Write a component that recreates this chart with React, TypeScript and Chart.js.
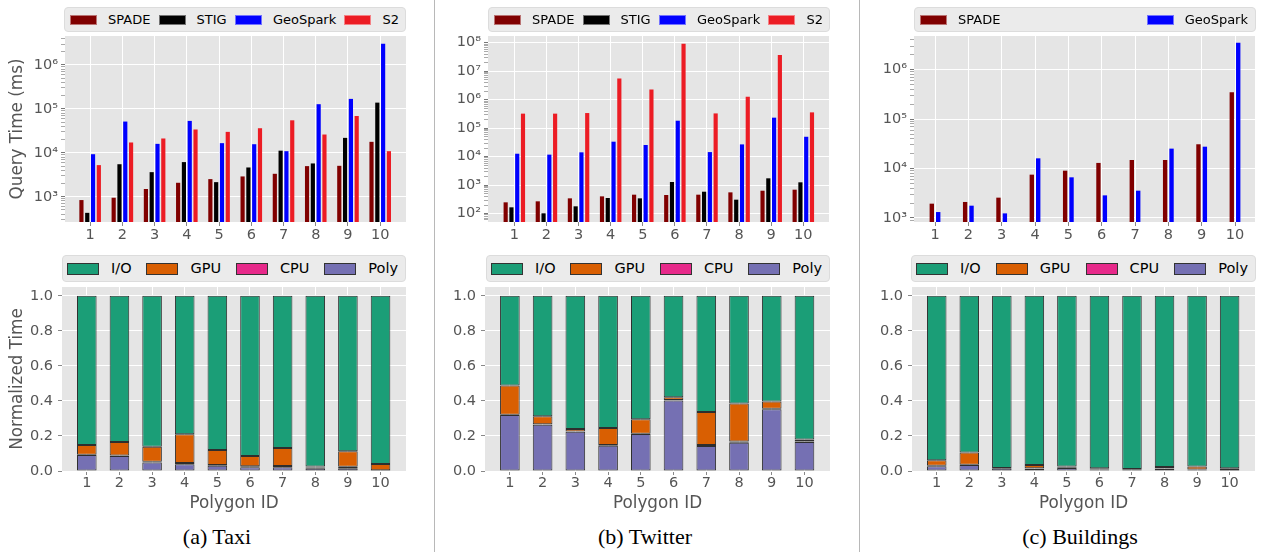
import React, { useEffect, useRef } from 'react';
import { Chart, registerables } from 'chart.js';

Chart.register(...registerables);

const FONT = "'DejaVu Sans', 'Noto Sans', sans-serif";
const TICK_COLOR = '#555555';

// ---------- data ----------
const polygonIds = [1, 2, 3, 4, 5, 6, 7, 8, 9, 10];

// (a) Taxi query time (ms)
const taxiSpade = [840, 950, 1500, 2080, 2520, 2900, 3330, 4980, 5060, 17800];
const taxiStig = [430, 5500, 3630, 6150, 2150, 4640, 11200, 5730, 21900, 139000];
const taxiGeoSpark = [9300, 51500, 16000, 53300, 16600, 15700, 10900, 128000, 169000, 3050000];
const taxiS2 = [5250, 17200, 21200, 34000, 30000, 36300, 55000, 26100, 69000, 10900];

// (b) Twitter query time (ms)
const twitterSpade = [250, 271, 345, 405, 464, 452, 464, 560, 640, 695];
const twitterStig = [167, 103, 181, 355, 345, 1290, 590, 310, 1740, 1260];
const twitterGeoSpark = [12700, 11800, 14200, 33600, 25700, 183000, 14500, 27000, 234000, 50000];
const twitterS2 = [324000, 324000, 340000, 5600000, 2300000, 92000000, 330000, 1270000, 37000000, 359000];

// (c) Buildings query time (ms)
const buildingsSpade = [1950, 2110, 2580, 7530, 9060, 13000, 14900, 14900, 31000, 348000];
const buildingsGeoSpark = [1320, 1775, 1240, 16100, 6650, 2870, 3570, 25300, 27700, 3500000];

// normalized time breakdown
const taxiIO = [0.852, 0.835, 0.861, 0.79, 0.88, 0.915, 0.869, 0.974, 0.888, 0.96];
const taxiGPU = [0.055, 0.077, 0.086, 0.164, 0.086, 0.058, 0.103, 0.006, 0.088, 0.036];
const taxiCPU = [0.002, 0.003, 0.005, 0.008, 0.004, 0.005, 0.006, 0.005, 0.009, 0.002];
const taxiPoly = [0.091, 0.085, 0.048, 0.038, 0.03, 0.022, 0.022, 0.015, 0.015, 0.002];

const twitterIO = [0.512, 0.687, 0.761, 0.755, 0.704, 0.579, 0.664, 0.615, 0.603, 0.82];
const twitterGPU = [0.167, 0.046, 0.013, 0.096, 0.083, 0.016, 0.188, 0.216, 0.042, 0.012];
const twitterCPU = [0.002, 0.003, 0.002, 0.005, 0.002, 0.003, 0.006, 0.008, 0.002, 0.003];
const twitterPoly = [0.319, 0.264, 0.224, 0.144, 0.211, 0.402, 0.142, 0.161, 0.353, 0.165];

const buildingsIO = [0.939, 0.894, 0.983, 0.966, 0.975, 0.985, 0.989, 0.977, 0.975, 0.985];
const buildingsGPU = [0.031, 0.07, 0.001, 0.018, 0.006, 0.004, 0.001, 0.007, 0.016, 0.011];
const buildingsCPU = [0.003, 0.002, 0.001, 0.003, 0.002, 0.003, 0.004, 0.003, 0.003, 0.002];
const buildingsPoly = [0.027, 0.034, 0.015, 0.013, 0.017, 0.008, 0.006, 0.013, 0.006, 0.002];

const normTicks = [0, 0.2, 0.4, 0.6, 0.8, 1.0];

// ---------- styles ----------
const COLORS = {
  SPADE: '#800000',
  STIG: '#000000',
  GeoSpark: '#0000ff',
  S2: '#ec1c24',
  'I/O': '#1b9e77',
  GPU: '#d95f02',
  CPU: '#e7298a',
  Poly: '#7570b3',
};

const SUP = ['⁰', '¹', '²', '³', '⁴', '⁵', '⁶', '⁷', '⁸', '⁹'];
const isMajor = (v: number) => {
  const l = Math.log10(v);
  return Math.abs(l - Math.round(l)) < 1e-9;
};
const supLabel = (v: number) => {
  const e = Math.round(Math.log10(v));
  return '10' + String(e).split('').map((d) => SUP[Number(d)]).join('');
};
const logTickValues = (min: number, max: number) => {
  const out: number[] = [];
  for (let d = Math.floor(Math.log10(min)); d <= Math.ceil(Math.log10(max)); d++) {
    for (let m = 1; m <= 9; m++) {
      const v = m * Math.pow(10, d);
      if (v >= min && v <= max) out.push(v);
    }
  }
  return out;
};

const bgPlugin = {
  id: 'panelBg',
  beforeDraw(chart: any) {
    const { ctx, chartArea } = chart;
    if (!chartArea) return;
    ctx.save();
    ctx.fillStyle = '#e5e5e5';
    ctx.fillRect(chartArea.left, chartArea.top, chartArea.right - chartArea.left, chartArea.bottom - chartArea.top);
    ctx.restore();
  },
};

type Series = { label: keyof typeof COLORS; data: number[] };

type Frame = {
  width: number;
  height: number;
  yWidth: number;
  xHeight: number;
  padTop: number;
  padRight: number;
  xMin: number;
  xMax: number;
};

const xScale = (f: Frame, withTitle: boolean) => ({
  type: 'linear',
  min: f.xMin,
  max: f.xMax,
  offset: false,
  afterFit: (s: any) => {
    s.height = f.xHeight;
  },
  afterBuildTicks: (s: any) => {
    s.ticks = polygonIds.map((v) => ({ value: v }));
  },
  grid: { color: '#ffffff', lineWidth: 1, offset: false, drawTicks: true, tickLength: 4, tickColor: '#888888' },
  border: { display: false },
  ticks: {
    color: TICK_COLOR,
    font: { family: FONT, size: 14.5 },
    padding: withTitle ? 0 : 1,
    autoSkip: false,
    maxRotation: 0,
    callback: (v: any) => String(v),
  },
  title: withTitle
    ? { display: true, text: 'Polygon ID', color: TICK_COLOR, font: { family: FONT, size: 16.8 }, padding: { top: 0, bottom: 6 } }
    : { display: false },
});

const yTitle = (text?: string) =>
  text
    ? { display: true, text, color: TICK_COLOR, font: { family: FONT, size: 16.8 }, padding: { top: 7.4, bottom: 0 } }
    : { display: false };

function topConfig(
  f: Frame,
  series: Series[],
  yMin: number,
  yMax: number,
  catPct: number,
  barPct: number,
  title?: string
) {
  return {
    type: 'bar',
    data: {
      datasets: series.map((s) => ({
        label: s.label,
        data: polygonIds.map((id, i) => ({ x: id, y: s.data[i] })),
        backgroundColor: COLORS[s.label],
        borderWidth: 0,
        categoryPercentage: catPct,
        barPercentage: barPct,
      })),
    },
    options: {
      animation: false,
      responsive: false,
      events: [],
      layout: { padding: { top: f.padTop, right: f.padRight, left: 0, bottom: 0 } },
      plugins: { legend: { display: false }, tooltip: { enabled: false } },
      scales: {
        x: xScale(f, false),
        y: {
          type: 'logarithmic',
          min: yMin,
          max: yMax,
          afterFit: (s: any) => {
            s.width = f.yWidth;
          },
          afterBuildTicks: (s: any) => {
            s.ticks = logTickValues(yMin, yMax).map((v) => ({ value: v }));
          },
          grid: {
            color: (c: any) => (c.tick && isMajor(c.tick.value) ? '#ffffff' : 'rgba(0,0,0,0)'),
            tickColor: (c: any) => (c.tick && isMajor(c.tick.value) ? '#777777' : '#aaaaaa'),
            lineWidth: 1,
            tickLength: 4,
          },
          border: { display: false },
          ticks: {
            color: TICK_COLOR,
            font: { family: FONT, size: 14.5 },
            padding: 3,
            autoSkip: false,
            callback: (v: any) => (isMajor(Number(v)) ? supLabel(Number(v)) : ''),
          },
          title: yTitle(title),
        },
      },
    },
    plugins: [bgPlugin],
  };
}

function bottomConfig(f: Frame, io: number[], gpu: number[], cpu: number[], poly: number[], title?: string) {
  const series: Series[] = [
    { label: 'Poly', data: poly },
    { label: 'CPU', data: cpu },
    { label: 'GPU', data: gpu },
    { label: 'I/O', data: io },
  ];
  return {
    type: 'bar',
    data: {
      datasets: series.map((s) => ({
        label: s.label,
        data: polygonIds.map((id, i) => ({ x: id, y: s.data[i] })),
        backgroundColor: COLORS[s.label],
        borderColor: '#2e2e2e',
        borderWidth: 1,
        borderSkipped: false,
        categoryPercentage: 1,
        barPercentage: 0.6,
      })),
    },
    options: {
      animation: false,
      responsive: false,
      events: [],
      layout: { padding: { top: f.padTop, right: f.padRight, left: 0, bottom: 0 } },
      plugins: { legend: { display: false }, tooltip: { enabled: false } },
      scales: {
        x: { ...xScale(f, true), stacked: true },
        y: {
          type: 'linear',
          stacked: true,
          min: 0,
          max: 1.05,
          afterFit: (s: any) => {
            s.width = f.yWidth;
          },
          afterBuildTicks: (s: any) => {
            s.ticks = normTicks.map((v) => ({ value: v }));
          },
          grid: { color: '#ffffff', lineWidth: 1, tickLength: 4, tickColor: '#888888' },
          border: { display: false },
          ticks: {
            color: TICK_COLOR,
            font: { family: FONT, size: 14.5 },
            padding: 5,
            autoSkip: false,
            callback: (v: any) => Number(v).toFixed(1),
          },
          title: yTitle(title),
        },
      },
    },
    plugins: [bgPlugin],
  };
}

function ChartBox({ left, top, width, height, config }: { left: number; top: number; width: number; height: number; config: () => any }) {
  const ref = useRef<HTMLCanvasElement>(null);
  useEffect(() => {
    const chart = new Chart(ref.current as HTMLCanvasElement, config());
    return () => chart.destroy();
  }, []);
  return (
    <canvas
      ref={ref}
      width={width}
      height={height}
      style={{ position: 'absolute', left, top, width, height, display: 'block' }}
    />
  );
}

function Legend({
  left,
  top,
  width,
  height,
  items,
  patchW,
  patchH,
  gap,
  fontSize,
  dark,
  padL,
  padR,
}: {
  left: number;
  top: number;
  width: number;
  height: number;
  items: (keyof typeof COLORS)[];
  patchW: number;
  patchH: number;
  gap: number;
  fontSize: number;
  dark: boolean;
  padL: number;
  padR: number;
}) {
  return (
    <div
      style={{
        position: 'absolute',
        left,
        top,
        width,
        height,
        boxSizing: 'border-box',
        background: '#ebebeb',
        border: '1px solid #dcdcdc',
        borderRadius: 4,
        display: 'flex',
        alignItems: 'center',
        justifyContent: 'space-between',
        paddingLeft: padL,
        paddingRight: padR,
        zIndex: 2,
      }}
    >
      {items.map((it) => (
        <div key={it} style={{ display: 'flex', alignItems: 'center' }}>
          <div
            style={{
              width: patchW,
              height: patchH,
              boxSizing: 'border-box',
              background: COLORS[it],
              border: dark ? '1px solid #333' : '1px solid rgba(255,255,255,0.45)',
              marginRight: gap,
            }}
          />
          <span style={{ fontFamily: FONT, fontSize, color: '#000', lineHeight: 1, whiteSpace: 'nowrap' }}>{it}</span>
        </div>
      ))}
    </div>
  );
}

const topFrameA: Frame = { width: 420, height: 250, yWidth: 65, xHeight: 28, padTop: 36, padRight: 14, xMin: 0.22, xMax: 10.8 };
const topFrameB: Frame = { width: 420, height: 250, yWidth: 52, xHeight: 28, padTop: 36, padRight: 27, xMin: 0.18, xMax: 10.8 };
const topFrameC: Frame = { width: 400, height: 250, yWidth: 53, xHeight: 28, padTop: 36, padRight: 6, xMin: 0.37, xMax: 10.6 };
const botFrameA: Frame = { width: 420, height: 270, yWidth: 62, xHeight: 49, padTop: 37, padRight: 14, xMin: 0.24, xMax: 10.78 };
const botFrameB: Frame = { width: 420, height: 270, yWidth: 49, xHeight: 49, padTop: 37, padRight: 26, xMin: 0.24, xMax: 10.78 };
const botFrameC: Frame = { width: 400, height: 270, yWidth: 51, xHeight: 49, padTop: 37, padRight: 6, xMin: 0.24, xMax: 10.78 };

const captionStyle = (center: number): React.CSSProperties => ({
  position: 'absolute',
  left: center - 150,
  width: 300,
  top: 524,
  textAlign: 'center',
  fontFamily: "'Liberation Serif', 'Times New Roman', serif",
  fontSize: 22,
  lineHeight: '26px',
  color: '#000',
});

export default function App() {
  const topItems: (keyof typeof COLORS)[] = ['SPADE', 'STIG', 'GeoSpark', 'S2'];
  const botItems: (keyof typeof COLORS)[] = ['I/O', 'GPU', 'CPU', 'Poly'];
  return (
    <div style={{ position: 'absolute', left: 0, top: 0, width: 1261, height: 552, background: '#fff', overflow: 'hidden' }}>
      {/* separators */}
      <div style={{ position: 'absolute', left: 434, top: 0, width: 1, height: 552, background: '#b8b8b8' }} />
      <div style={{ position: 'absolute', left: 859, top: 0, width: 1, height: 552, background: '#b8b8b8' }} />

      {/* top row */}
      <ChartBox
        left={0}
        top={0}
        width={topFrameA.width}
        height={topFrameA.height}
        config={() =>
          topConfig(
            topFrameA,
            [
              { label: 'SPADE', data: taxiSpade },
              { label: 'STIG', data: taxiStig },
              { label: 'GeoSpark', data: taxiGeoSpark },
              { label: 'S2', data: taxiS2 },
            ],
            266,
            4.57e6,
            0.72,
            0.72,
            'Query Time (ms)'
          )
        }
      />
      <ChartBox
        left={436}
        top={0}
        width={topFrameB.width}
        height={topFrameB.height}
        config={() =>
          topConfig(
            topFrameB,
            [
              { label: 'SPADE', data: twitterSpade },
              { label: 'STIG', data: twitterStig },
              { label: 'GeoSpark', data: twitterGeoSpark },
              { label: 'S2', data: twitterS2 },
            ],
            51,
            1.72e8,
            0.72,
            0.72
          )
        }
      />
      <ChartBox
        left={861}
        top={0}
        width={topFrameC.width}
        height={topFrameC.height}
        config={() =>
          topConfig(
            topFrameC,
            [
              { label: 'SPADE', data: buildingsSpade },
              { label: 'GeoSpark', data: buildingsGeoSpark },
            ],
            830,
            4.8e6,
            0.385,
            0.68
          )
        }
      />

      {/* bottom row */}
      <ChartBox
        left={0}
        top={250}
        width={botFrameA.width}
        height={botFrameA.height}
        config={() => bottomConfig(botFrameA, taxiIO, taxiGPU, taxiCPU, taxiPoly, 'Normalized Time')}
      />
      <ChartBox
        left={436}
        top={250}
        width={botFrameB.width}
        height={botFrameB.height}
        config={() => bottomConfig(botFrameB, twitterIO, twitterGPU, twitterCPU, twitterPoly)}
      />
      <ChartBox
        left={861}
        top={250}
        width={botFrameC.width}
        height={botFrameC.height}
        config={() => bottomConfig(botFrameC, buildingsIO, buildingsGPU, buildingsCPU, buildingsPoly)}
      />

      {/* legends */}
      <Legend left={64} top={7} width={342} height={25} items={topItems} patchW={27} patchH={10} gap={11} fontSize={13} dark={false} padL={5} padR={6} />
      <Legend left={488} top={7} width={342} height={25} items={topItems} patchW={27} patchH={10} gap={11} fontSize={13} dark={false} padL={5} padR={6} />
      <Legend left={914} top={7} width={342} height={25} items={['SPADE', 'GeoSpark']} patchW={27} patchH={10} gap={11} fontSize={13} dark={false} padL={5} padR={7} />
      <Legend left={62} top={255} width={344} height={27} items={botItems} patchW={32} patchH={12} gap={12} fontSize={14.5} dark={true} padL={4} padR={7} />
      <Legend left={486} top={255} width={344} height={27} items={botItems} patchW={32} patchH={12} gap={12} fontSize={14.5} dark={true} padL={4} padR={7} />
      <Legend left={911} top={255} width={345} height={27} items={botItems} patchW={32} patchH={12} gap={12} fontSize={14.5} dark={true} padL={4} padR={7} />

      {/* captions */}
      <div style={captionStyle(217)}>(a) Taxi</div>
      <div style={captionStyle(645)}>(b) Twitter</div>
      <div style={captionStyle(1080)}>(c) Buildings</div>
    </div>
  );
}
